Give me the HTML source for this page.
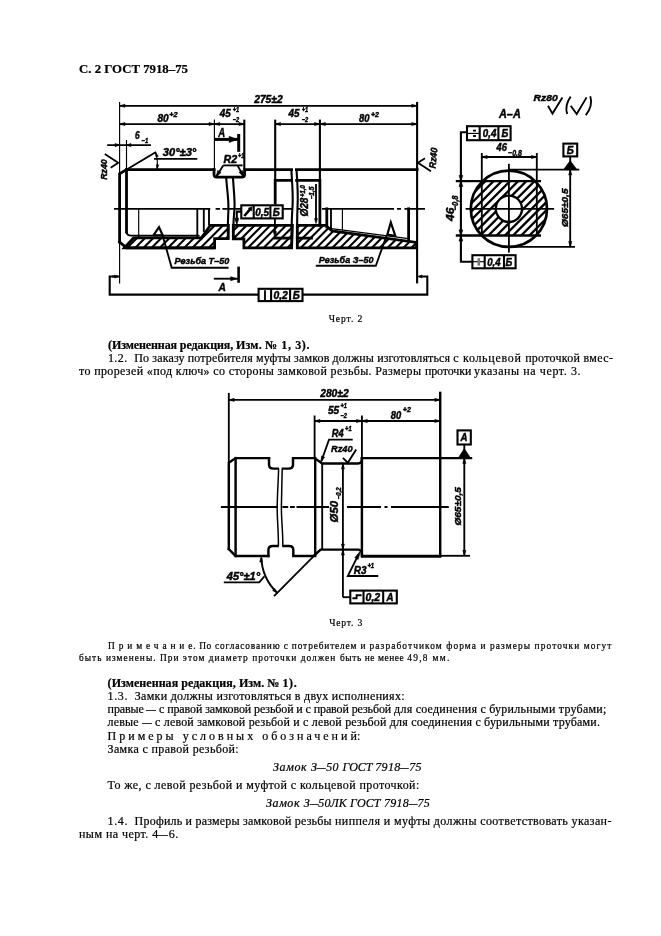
<!DOCTYPE html>
<html><head><meta charset="utf-8">
<style>
html,body{margin:0;padding:0;background:#fff;}
body{width:661px;height:936px;position:relative;overflow:hidden;font-family:"Liberation Serif",serif;color:#000;}
.l{position:absolute;white-space:pre;line-height:1;-webkit-text-stroke:0.22px #000;}
.d{display:inline-block;transform:scaleX(.8);transform-origin:50% 50%;margin:0 -.1em;}
svg{position:absolute;left:0;top:0;}
#pg{position:absolute;left:0;top:0;width:661px;height:936px;opacity:0.999;will-change:transform;}
</style></head><body><div id="pg">
<div class="l" id="h_0" style="left:79.0px;top:62.6px;font-size:12.8px;font-weight:bold;letter-spacing:0.00px;">С. 2 ГОСТ 7918–75</div>
<div class="l" id="c2_0" style="left:328.7px;top:313.6px;font-size:9.6px;letter-spacing:0.89px;">Черт. 2</div>
<div class="l" id="a1_0" style="left:108.0px;top:338.9px;font-size:12.0px;font-weight:bold;letter-spacing:-0.10px;">(Измененная редакция, </div>
<div class="l" id="a1_1" style="left:236.0px;top:338.9px;font-size:12.0px;font-weight:bold;letter-spacing:0.17px;">Изм. </div>
<div class="l" id="a1_2" style="left:265.0px;top:338.9px;font-size:12.0px;font-weight:bold;letter-spacing:0.62px;">№ 1, 3).</div>
<div class="l" id="a2_0" style="left:107.9px;top:351.9px;font-size:12.0px;letter-spacing:0.48px;">1.2. </div>
<div class="l" id="a2_1" style="left:134.3px;top:351.9px;font-size:12.0px;letter-spacing:0.13px;">По заказу потребителя муфты замков должны изготовляться </div>
<div class="l" id="a2_2" style="left:453.2px;top:351.9px;font-size:12.0px;letter-spacing:0.74px;">с </div>
<div class="l" id="a2_3" style="left:463.0px;top:351.9px;font-size:12.0px;letter-spacing:0.69px;">кольцевой </div>
<div class="l" id="a2_4" style="left:525.2px;top:351.9px;font-size:12.0px;letter-spacing:0.25px;">проточкой </div>
<div class="l" id="a2_5" style="left:583.4px;top:351.9px;font-size:12.0px;letter-spacing:0.40px;">вмес-</div>
<div class="l" id="a3_0" style="left:79.0px;top:364.9px;font-size:12.0px;letter-spacing:0.36px;">то прорезей «под ключ» со стороны замковой резьбы. Размеры </div>
<div class="l" id="a3_1" style="left:424.9px;top:364.9px;font-size:12.0px;letter-spacing:-0.13px;">проточки </div>
<div class="l" id="a3_2" style="left:474.1px;top:364.9px;font-size:12.0px;letter-spacing:0.59px;">указаны на черт. 3.</div>
<div class="l" id="c3_0" style="left:329.2px;top:617.9px;font-size:9.6px;letter-spacing:0.81px;">Черт. 3</div>
<div class="l" id="n1_0" style="left:108.0px;top:641.5px;font-size:9.4px;letter-spacing:3.89px;">Примечани</div>
<div class="l" id="n1_1" style="left:188.3px;top:641.5px;font-size:9.4px;letter-spacing:0.67px;">е. По </div>
<div class="l" id="n1_2" style="left:215.0px;top:641.5px;font-size:9.4px;letter-spacing:0.84px;">согласованию с потребителем и </div>
<div class="l" id="n1_3" style="left:369.6px;top:641.5px;font-size:9.4px;letter-spacing:1.09px;">разработчиком форма и размеры проточки могут</div>
<div class="l" id="n2_0" style="left:79.0px;top:653.6px;font-size:9.4px;letter-spacing:1.02px;">быть изменены. При этом диаметр проточки должен </div>
<div class="l" id="n2_1" style="left:340.0px;top:653.6px;font-size:9.4px;letter-spacing:0.58px;">быть не менее </div>
<div class="l" id="n2_2" style="left:407.2px;top:653.6px;font-size:9.4px;letter-spacing:1.30px;">49,8 мм.</div>
<div class="l" id="b1_0" style="left:107.6px;top:677.0px;font-size:12.0px;font-weight:bold;letter-spacing:0.05px;">(Измененная редакция, Изм. № </div>
<div class="l" id="b1_1" style="left:282.4px;top:677.0px;font-size:12.0px;font-weight:bold;letter-spacing:0.65px;">1).</div>
<div class="l" id="b2_0" style="left:107.6px;top:690.0px;font-size:12.0px;letter-spacing:0.64px;">1.3. </div>
<div class="l" id="b2_1" style="left:134.8px;top:690.0px;font-size:12.0px;letter-spacing:0.29px;">Замки должны изготовляться в двух исполнениях:</div>
<div class="l" id="b3_0" style="left:107.6px;top:703.2px;font-size:12.0px;letter-spacing:-0.11px;">правые <span class="d">—</span> с правой замковой резьбой и с правой резьбой </div>
<div class="l" id="b3_1" style="left:394.1px;top:703.2px;font-size:12.0px;letter-spacing:0.23px;">для соединения с бурильными трубами;</div>
<div class="l" id="b4_0" style="left:107.6px;top:716.4px;font-size:12.0px;letter-spacing:0.18px;">левые <span class="d">—</span> с левой замковой резьбой и с левой резьбой для соединения с бурильными трубами.</div>
<div class="l" id="b5_0" style="left:107.6px;top:729.7px;font-size:12.0px;letter-spacing:3.00px;">Примеры условных обозначени</div>
<div class="l" id="b5_1" style="left:350.4px;top:729.7px;font-size:12.0px;letter-spacing:0.13px;">й:</div>
<div class="l" id="b6_0" style="left:107.6px;top:742.8px;font-size:12.0px;letter-spacing:0.34px;">Замка с правой резьбой:</div>
<div class="l" id="b7_0" style="left:273.0px;top:760.7px;font-size:12.0px;font-style:italic;letter-spacing:0.63px;">Замок </div>
<div class="l" id="b7_1" style="left:311.0px;top:760.7px;font-size:12.0px;font-style:italic;letter-spacing:0.45px;">З<span class="d">—</span>50 </div>
<div class="l" id="b7_2" style="left:342.5px;top:760.7px;font-size:12.0px;font-style:italic;letter-spacing:-0.04px;">ГОСТ </div>
<div class="l" id="b7_3" style="left:375.3px;top:760.7px;font-size:12.0px;font-style:italic;letter-spacing:0.32px;">7918<span class="d">—</span>75</div>
<div class="l" id="b8_0" style="left:107.6px;top:778.8px;font-size:12.0px;letter-spacing:0.42px;">То же, с левой резьбой и муфтой с кольцевой проточкой:</div>
<div class="l" id="b9_0" style="left:266.1px;top:796.5px;font-size:12.0px;font-style:italic;letter-spacing:0.56px;">Замок </div>
<div class="l" id="b9_1" style="left:303.7px;top:796.5px;font-size:12.0px;font-style:italic;letter-spacing:0.15px;">З<span class="d">—</span>50ЛК ГОСТ </div>
<div class="l" id="b9_2" style="left:383.9px;top:796.5px;font-size:12.0px;font-style:italic;letter-spacing:0.25px;">7918<span class="d">—</span>75</div>
<div class="l" id="b10_0" style="left:107.6px;top:815.0px;font-size:12.0px;letter-spacing:0.60px;">1.4. </div>
<div class="l" id="b10_1" style="left:134.6px;top:815.0px;font-size:12.0px;letter-spacing:0.21px;">Профиль и размеры замковой резьбы </div>
<div class="l" id="b10_2" style="left:335.0px;top:815.0px;font-size:12.0px;letter-spacing:0.41px;">ниппеля и </div>
<div class="l" id="b10_3" style="left:394.1px;top:815.0px;font-size:12.0px;letter-spacing:0.39px;">муфты должны соответствовать указан-</div>
<div class="l" id="b11_0" style="left:79.0px;top:827.5px;font-size:12.0px;letter-spacing:0.45px;">ным на черт. 4<span class="d">—</span>6.</div>
<svg width="661" height="936" viewBox="0 0 661 936">
<style>
.k{stroke:#000;stroke-width:2.8;fill:none;stroke-linecap:square}
.k2{stroke:#000;stroke-width:2.45;fill:none;stroke-linecap:square}
.m2{stroke:#000;stroke-width:1.5;fill:none}
.m{stroke:#000;stroke-width:1.85;fill:none}
.t{stroke:#000;stroke-width:1.15;fill:none}
.h{stroke:#000;stroke-width:2.1;fill:none}
.e{stroke:#000;stroke-width:2.1;fill:none}
.h2{stroke:#000;stroke-width:2.3;fill:none}
.f{fill:#000;stroke:#000;stroke-width:0.6}
.tx{font-family:"Liberation Sans",sans-serif;font-weight:bold;font-style:italic;fill:#000;stroke:#000;stroke-width:0.45}
</style>
<line class="t" x1="119.6" y1="101.9" x2="119.6" y2="173.7"/>
<line class="t" x1="119.6" y1="242.0" x2="119.6" y2="283.4"/>
<line class="e" x1="417.1" y1="101.9" x2="417.1" y2="283.4"/>
<line class="m" x1="119.6" y1="105.8" x2="417.1" y2="105.8"/>
<polygon class="f" points="119.6,105.8 125.0,104.2 125.0,107.3"/>
<polygon class="f" points="417.1,105.8 411.7,107.3 411.7,104.2"/>
<line class="m" x1="119.6" y1="124.1" x2="244.3" y2="124.1"/>
<polygon class="f" points="119.6,124.1 125.0,122.5 125.0,125.6"/>
<polygon class="f" points="214.4,124.1 209.0,125.6 209.0,122.5"/>
<polygon class="f" points="214.4,124.1 219.8,122.5 219.8,125.6"/>
<polygon class="f" points="244.3,124.1 238.9,125.6 238.9,122.5"/>
<line class="m" x1="275.2" y1="124.1" x2="417.1" y2="124.1"/>
<polygon class="f" points="275.2,124.1 280.6,122.5 280.6,125.6"/>
<polygon class="f" points="319.9,124.1 314.5,125.6 314.5,122.5"/>
<polygon class="f" points="319.9,124.1 325.3,122.5 325.3,125.6"/>
<polygon class="f" points="417.1,124.1 411.7,125.6 411.7,122.5"/>
<line class="t" x1="214.4" y1="119.6" x2="214.4" y2="169.6"/>
<line class="e" x1="244.3" y1="119.6" x2="244.3" y2="169.6"/>
<line class="e" x1="275.2" y1="119.6" x2="275.2" y2="180.3"/>
<line class="e" x1="319.9" y1="119.6" x2="319.9" y2="180.3"/>
<text class="tx" x="254.2" y="103.0" font-size="10.6" textLength="28.5" lengthAdjust="spacingAndGlyphs">275±2</text>
<text class="tx" x="157.5" y="122.3" font-size="10.6" textLength="11.2" lengthAdjust="spacingAndGlyphs">80</text>
<text class="tx" x="169.2" y="116.6" font-size="7.3" textLength="8.4" lengthAdjust="spacingAndGlyphs">+2</text>
<text class="tx" x="219.7" y="116.8" font-size="10.6" textLength="11.0" lengthAdjust="spacingAndGlyphs">45</text>
<text class="tx" x="232.8" y="111.8" font-size="7.3" textLength="6.5" lengthAdjust="spacingAndGlyphs">+1</text>
<text class="tx" x="232.8" y="121.6" font-size="7.3" textLength="6.5" lengthAdjust="spacingAndGlyphs">−2</text>
<text class="tx" x="288.6" y="116.8" font-size="10.6" textLength="11.0" lengthAdjust="spacingAndGlyphs">45</text>
<text class="tx" x="301.7" y="111.8" font-size="7.3" textLength="6.5" lengthAdjust="spacingAndGlyphs">+1</text>
<text class="tx" x="301.7" y="121.6" font-size="7.3" textLength="6.5" lengthAdjust="spacingAndGlyphs">−2</text>
<text class="tx" x="359.0" y="122.3" font-size="10.6" textLength="10.5" lengthAdjust="spacingAndGlyphs">80</text>
<text class="tx" x="370.9" y="116.6" font-size="7.3" textLength="8.0" lengthAdjust="spacingAndGlyphs">+2</text>
<line class="m" x1="107.2" y1="145.1" x2="151.0" y2="145.1"/>
<polygon class="f" points="119.6,145.1 115.1,146.7 115.1,143.5"/>
<polygon class="f" points="126.5,145.1 131.0,143.5 131.0,146.7"/>
<line class="t" x1="126.5" y1="140.0" x2="126.5" y2="169.6"/>
<text class="tx" x="135.0" y="139.4" font-size="10.6" textLength="4.6" lengthAdjust="spacingAndGlyphs">6</text>
<text class="tx" x="141.6" y="143.2" font-size="7.3" textLength="6.6" lengthAdjust="spacingAndGlyphs">−1</text>
<line class="m" x1="119.6" y1="173.7" x2="156.0" y2="152.0"/>
<line class="m" x1="154.0" y1="158.9" x2="197.3" y2="158.9"/>
<text class="tx" x="162.8" y="156.2" font-size="10.1" textLength="33.5" lengthAdjust="spacingAndGlyphs">30°±3°</text>
<path class="t" d="M155.6,152.6 Q158.2,160.5 157,169"/>
<polygon class="f" points="155.6,152.4 158.3,156.2 156.0,157.0"/>
<polygon class="f" points="157.0,169.2 156.4,164.6 158.8,164.9"/>
<polyline class="m" points="104.8,154.0 118.2,162.8 110.7,167.8"/>
<text class="tx" x="107.4" y="179.8" font-size="9.5" textLength="20.5" lengthAdjust="spacingAndGlyphs" transform="rotate(-90 107.4 179.8)">Rz40</text>
<polyline class="m" points="425.0,158.3 418.0,162.8 430.9,171.3"/>
<text class="tx" x="435.4" y="168.8" font-size="9.5" textLength="21.0" lengthAdjust="spacingAndGlyphs" transform="rotate(-84 435.4 168.8)">Rz40</text>
<polyline class="k" points="119.6,242.0 119.6,173.7 126.5,169.6 214.0,169.6"/>
<path class="k" d="M214,169.6 L214,174.5 Q214,177.2 216.8,177.2 L241.8,177.2 Q244.6,177.2 244.6,174.5 L244.6,169.6 L291.6,169.6"/>
<line class="k" x1="296.4" y1="169.6" x2="417.1" y2="169.6"/>
<line class="k" x1="126.5" y1="169.6" x2="126.5" y2="232.0"/>
<path class="m" d="M126.5,231.5 Q126.5,235.6 131.5,235.6 L199.5,235.6"/>
<polyline class="k" points="119.6,242.0 126.5,247.8 213.2,247.8"/>
<line class="m" x1="223.2" y1="165.4" x2="242.6" y2="165.4"/>
<line class="m" x1="223.2" y1="165.4" x2="216.6" y2="176.3"/>
<line class="m" x1="237.5" y1="165.4" x2="243.4" y2="176.3"/>
<polygon class="f" points="216.0,177.0 217.7,170.4 221.1,172.5"/>
<polygon class="f" points="244.0,177.0 239.0,172.4 242.5,170.4"/>
<text class="tx" x="223.6" y="163.2" font-size="10.1" textLength="13.6" lengthAdjust="spacingAndGlyphs">R2</text>
<text class="tx" x="238.0" y="158.4" font-size="7.3" textLength="6.2" lengthAdjust="spacingAndGlyphs">+1</text>
<line x1="214.2" y1="139.4" x2="238" y2="139.4" stroke="#000" stroke-width="3"/>
<polygon class="f" points="237.2,139.4 229.2,142.5 229.2,136.3"/>
<line x1="238.7" y1="134" x2="238.7" y2="151.8" stroke="#000" stroke-width="3"/>
<text class="tx" x="218.2" y="136.6" font-size="13.4" textLength="6.9" lengthAdjust="spacingAndGlyphs">A</text>
<line x1="213.8" y1="278.7" x2="238" y2="278.7" stroke="#000" stroke-width="1.9"/>
<polygon class="f" points="237.2,278.7 230.7,280.7 230.7,276.7"/>
<line x1="238.6" y1="266.6" x2="238.6" y2="282.8" stroke="#000" stroke-width="2.6"/>
<text class="tx" x="218.4" y="291.3" font-size="10.6" textLength="7.4" lengthAdjust="spacingAndGlyphs">A</text>
<polyline class="k" points="275.2,203.2 275.2,180.3 291.6,180.3"/>
<polyline class="k" points="296.6,180.3 319.9,180.3 319.9,225.3"/>
<path class="m" d="M114,208.8 H210.3 M215.6,208.8 H220.1 M222.4,208.8 H241.3 M283,208.8 H292.5 M298,208.8 H300 M322,208.8 H394 M397,208.8 H401 M404.5,208.8 H425"/>
<line class="t" x1="138.7" y1="208.8" x2="138.7" y2="237.0"/>
<line class="m" x1="197.3" y1="208.8" x2="197.3" y2="237.0"/>
<line class="m" x1="203.8" y1="208.8" x2="203.8" y2="232.0"/>
<line class="m" x1="209.0" y1="208.8" x2="209.0" y2="225.4"/>
<line class="k" x1="326.8" y1="208.8" x2="326.8" y2="227.0"/>
<line class="m" x1="331.0" y1="208.8" x2="331.0" y2="229.5"/>
<line class="t" x1="342.4" y1="208.8" x2="342.4" y2="230.4"/>
<line class="k" x1="408.6" y1="208.8" x2="408.6" y2="240.4"/>
<clipPath id="cpa"><path d="M124.5,247.8 L133.6,237.8 L201.4,237.8 L210.4,225.3 L228.4,225.3 L228.2,238.6 L214.6,238.6 L214.6,247.8 Z" clip-rule="evenodd"/></clipPath>
<clipPath id="cpb"><path d="M233.3,225.3 L292.4,225.3 L291.6,247.8 L243.9,247.8 L243.9,238.9 L233.3,238.9 Z" clip-rule="evenodd"/></clipPath>
<clipPath id="cpc"><path d="M297.3,225.3 L325.5,225.3 L332,230.9 L416.5,242.4 L416.5,247.8 L297.3,247.8 Z" clip-rule="evenodd"/></clipPath>
<g clip-path="url(#cpa)">
<line class="h" x1="84.2" y1="250.0" x2="111.2" y2="223.0"/>
<line class="h" x1="92.4" y1="250.0" x2="119.4" y2="223.0"/>
<line class="h" x1="100.6" y1="250.0" x2="127.6" y2="223.0"/>
<line class="h" x1="108.7" y1="250.0" x2="135.7" y2="223.0"/>
<line class="h" x1="116.9" y1="250.0" x2="143.9" y2="223.0"/>
<line class="h" x1="125.0" y1="250.0" x2="152.0" y2="223.0"/>
<line class="h" x1="133.1" y1="250.0" x2="160.1" y2="223.0"/>
<line class="h" x1="141.3" y1="250.0" x2="168.3" y2="223.0"/>
<line class="h" x1="149.4" y1="250.0" x2="176.4" y2="223.0"/>
<line class="h" x1="157.6" y1="250.0" x2="184.6" y2="223.0"/>
<line class="h" x1="165.8" y1="250.0" x2="192.8" y2="223.0"/>
<line class="h" x1="173.9" y1="250.0" x2="200.9" y2="223.0"/>
<line class="h" x1="182.1" y1="250.0" x2="209.1" y2="223.0"/>
<line class="h" x1="190.2" y1="250.0" x2="217.2" y2="223.0"/>
<line class="h" x1="198.4" y1="250.0" x2="225.4" y2="223.0"/>
<line class="h" x1="206.5" y1="250.0" x2="233.5" y2="223.0"/>
<line class="h" x1="214.6" y1="250.0" x2="241.6" y2="223.0"/>
<line class="h" x1="222.8" y1="250.0" x2="249.8" y2="223.0"/>
<line class="h" x1="230.9" y1="250.0" x2="257.9" y2="223.0"/>
<line class="h" x1="239.1" y1="250.0" x2="266.1" y2="223.0"/>
</g>
<g clip-path="url(#cpb)">
<line class="h" x1="190.4" y1="250.0" x2="217.4" y2="223.0"/>
<line class="h" x1="198.3" y1="250.0" x2="225.3" y2="223.0"/>
<line class="h" x1="206.2" y1="250.0" x2="233.2" y2="223.0"/>
<line class="h" x1="214.1" y1="250.0" x2="241.1" y2="223.0"/>
<line class="h" x1="222.0" y1="250.0" x2="249.0" y2="223.0"/>
<line class="h" x1="229.9" y1="250.0" x2="256.9" y2="223.0"/>
<line class="h" x1="237.8" y1="250.0" x2="264.8" y2="223.0"/>
<line class="h" x1="245.7" y1="250.0" x2="272.7" y2="223.0"/>
<line class="h" x1="253.6" y1="250.0" x2="280.6" y2="223.0"/>
<line class="h" x1="261.5" y1="250.0" x2="288.5" y2="223.0"/>
<line class="h" x1="269.4" y1="250.0" x2="296.4" y2="223.0"/>
<line class="h" x1="277.3" y1="250.0" x2="304.3" y2="223.0"/>
<line class="h" x1="285.2" y1="250.0" x2="312.2" y2="223.0"/>
<line class="h" x1="293.1" y1="250.0" x2="320.1" y2="223.0"/>
<line class="h" x1="301.0" y1="250.0" x2="328.0" y2="223.0"/>
</g>
<g clip-path="url(#cpc)">
<line class="h" x1="259.1" y1="250.0" x2="286.1" y2="223.0"/>
<line class="h" x1="267.0" y1="250.0" x2="294.0" y2="223.0"/>
<line class="h" x1="274.9" y1="250.0" x2="301.9" y2="223.0"/>
<line class="h" x1="282.8" y1="250.0" x2="309.8" y2="223.0"/>
<line class="h" x1="290.7" y1="250.0" x2="317.7" y2="223.0"/>
<line class="h" x1="298.6" y1="250.0" x2="325.6" y2="223.0"/>
<line class="h" x1="306.5" y1="250.0" x2="333.5" y2="223.0"/>
<line class="h" x1="314.4" y1="250.0" x2="341.4" y2="223.0"/>
<line class="h" x1="322.3" y1="250.0" x2="349.3" y2="223.0"/>
<line class="h" x1="330.2" y1="250.0" x2="357.2" y2="223.0"/>
<line class="h" x1="338.1" y1="250.0" x2="365.1" y2="223.0"/>
<line class="h" x1="346.0" y1="250.0" x2="373.0" y2="223.0"/>
<line class="h" x1="353.9" y1="250.0" x2="380.9" y2="223.0"/>
<line class="h" x1="361.8" y1="250.0" x2="388.8" y2="223.0"/>
<line class="h" x1="369.7" y1="250.0" x2="396.7" y2="223.0"/>
<line class="h" x1="377.6" y1="250.0" x2="404.6" y2="223.0"/>
<line class="h" x1="385.5" y1="250.0" x2="412.5" y2="223.0"/>
<line class="h" x1="393.4" y1="250.0" x2="420.4" y2="223.0"/>
<line class="h" x1="401.3" y1="250.0" x2="428.3" y2="223.0"/>
<line class="h" x1="409.2" y1="250.0" x2="436.2" y2="223.0"/>
<line class="h" x1="417.1" y1="250.0" x2="444.1" y2="223.0"/>
<line class="h" x1="425.0" y1="250.0" x2="452.0" y2="223.0"/>
</g>
<path class="k" d="M124.5,247.8 L133.6,237.8 L201.4,237.8 L210.4,225.3 L228.4,225.3 L228.2,238.6 L214.6,238.6 L214.6,247.8 Z"/>
<path class="k" d="M233.3,225.3 L292.4,225.3 L291.6,247.8 L243.9,247.8 L243.9,238.9 L233.3,238.9 Z"/>
<path class="k" d="M297.3,225.3 L325.5,225.3 L332,230.9 L416.5,242.4 L416.5,247.8 L297.3,247.8 Z"/>
<line class="k" x1="275.2" y1="238.1" x2="291.6" y2="238.1"/>
<line class="k" x1="297.3" y1="238.1" x2="311.5" y2="238.1"/>
<line class="t" x1="326.0" y1="226.0" x2="331.5" y2="228.6"/>
<line class="t" x1="331.5" y1="228.6" x2="408.6" y2="238.6"/>
<path class="e" d="M226.2,177.5 C227,190 228.8,200 228.4,210 S227.4,228 228.3,238.6"/>
<path class="e" d="M233,177.5 C233.6,190 235,200 234.5,208 S232.8,226 233.3,238.9"/>
<path class="e" d="M291.4,169.6 C291.8,180 293.2,192 292.6,205 S291,222 292,247.8"/>
<path class="e" d="M296.5,169.6 C297.2,180 298.2,192 297.6,205 S296.8,222 297.3,247.8"/>
<polygon class="e" points="153.4,235.3 159.0,227.2 162.7,235.3"/>
<polyline class="m" points="162.2,234.0 171.7,267.7 228.6,267.7"/>
<text class="tx" x="174.6" y="263.6" font-size="9.7" textLength="54.6" lengthAdjust="spacingAndGlyphs">Резьба Т–50</text>
<polygon class="e" points="387.3,234.6 390.8,222.4 395.3,235.8"/>
<polyline class="m" points="386.6,235.6 375.8,265.7 315.8,265.7"/>
<text class="tx" x="318.8" y="263.4" font-size="9.7" textLength="54.6" lengthAdjust="spacingAndGlyphs">Резьба З–50</text>
<rect class="e" x="241.3" y="205.3" width="41.4" height="13.1"/>
<line class="e" x1="253.7" y1="205.3" x2="253.7" y2="218.4"/>
<line class="e" x1="270.4" y1="205.3" x2="270.4" y2="218.4"/>
<line x1="244.3" y1="216" x2="250.6" y2="208.6" stroke="#000" stroke-width="2.6"/>
<polygon class="f" points="252.2,206.8 251.5,210.9 248.3,208.2"/>
<text class="tx" x="255.2" y="215.6" font-size="10.1" textLength="13.8" lengthAdjust="spacingAndGlyphs">0,5</text>
<text class="tx" x="272.8" y="215.6" font-size="10.1" textLength="7.0" lengthAdjust="spacingAndGlyphs">Б</text>
<polyline class="e" points="241.3,211.6 236.8,211.6 236.8,221.0"/>
<polygon class="f" points="236.8,225.2 234.9,218.2 238.7,218.2"/>
<line class="m" x1="274.9" y1="218.4" x2="274.9" y2="233.0"/>
<polygon class="f" points="274.9,237.6 273.3,231.6 276.5,231.6"/>
<line class="m" x1="316.0" y1="184.0" x2="316.0" y2="220.0"/>
<polygon class="f" points="316.0,223.6 314.5,218.6 317.5,218.6"/>
<text class="tx" x="308.4" y="216.6" font-size="10.6" textLength="19.0" lengthAdjust="spacingAndGlyphs" transform="rotate(-90 308.4 216.6)">Ø28</text>
<text class="tx" x="304.6" y="197.0" font-size="6.6" textLength="12.0" lengthAdjust="spacingAndGlyphs" transform="rotate(-90 304.6 197.0)">+1,0</text>
<text class="tx" x="313.6" y="199.6" font-size="6.6" textLength="13.0" lengthAdjust="spacingAndGlyphs" transform="rotate(-90 313.6 199.6)">−1,5</text>
<polyline class="e" points="114.6,276.5 109.7,276.5 109.7,294.6 258.6,294.6"/>
<polygon class="f" points="119.6,276.5 114.6,278.0 114.6,275.0"/>
<line class="m" x1="112.0" y1="276.5" x2="119.6" y2="276.5"/>
<polyline class="e" points="422.1,276.5 427.3,276.5 427.3,294.6 302.5,294.6"/>
<polygon class="f" points="417.1,276.5 422.1,275.0 422.1,278.0"/>
<rect class="e" x="258.6" y="288.8" width="43.9" height="12.3"/>
<line class="e" x1="271.1" y1="288.8" x2="271.1" y2="301.1"/>
<line class="e" x1="290.1" y1="288.8" x2="290.1" y2="301.1"/>
<line class="m" x1="265.0" y1="290.2" x2="265.0" y2="300.4"/>
<text class="tx" x="273.4" y="298.8" font-size="10.1" textLength="14.4" lengthAdjust="spacingAndGlyphs">0,2</text>
<text class="tx" x="292.8" y="298.8" font-size="10.1" textLength="7.0" lengthAdjust="spacingAndGlyphs">Б</text>
<text class="tx" x="499.0" y="117.6" font-size="12.5" textLength="21.8" lengthAdjust="spacingAndGlyphs">A–A</text>
<rect class="e" x="467" y="126.2" width="43.6" height="14"/>
<line class="e" x1="479.7" y1="126.2" x2="479.7" y2="140.2"/>
<line class="e" x1="498.4" y1="126.2" x2="498.4" y2="140.2"/>
<line class="t" x1="467.0" y1="133.4" x2="479.7" y2="133.4"/>
<line class="m" x1="473.0" y1="130.6" x2="476.0" y2="130.6"/>
<line class="m" x1="473.0" y1="136.0" x2="476.0" y2="136.0"/>
<text class="tx" x="482.8" y="137.2" font-size="10.6" textLength="13.6" lengthAdjust="spacingAndGlyphs">0,4</text>
<text class="tx" x="501.4" y="137.2" font-size="10.3" textLength="6.8" lengthAdjust="spacingAndGlyphs">Б</text>
<polyline class="e" points="467.0,132.2 460.9,132.2 460.9,261.7 472.4,261.7"/>
<polygon class="f" points="460.9,181.0 459.0,175.4 462.8,175.4"/>
<polygon class="f" points="460.9,181.0 462.8,186.6 459.0,186.6"/>
<polygon class="f" points="460.9,235.5 459.0,229.9 462.8,229.9"/>
<polygon class="f" points="460.9,235.5 462.8,241.1 459.0,241.1"/>
<text class="tx" x="454.2" y="221.0" font-size="10.3" textLength="13.4" lengthAdjust="spacingAndGlyphs" transform="rotate(-90 454.2 221.0)">46</text>
<text class="tx" x="458.4" y="210.4" font-size="9.0" textLength="15.0" lengthAdjust="spacingAndGlyphs" transform="rotate(-90 458.4 210.4)">−0,8</text>
<rect class="e" x="472.4" y="255.2" width="43.2" height="13.1"/>
<line class="e" x1="484.7" y1="255.2" x2="484.7" y2="268.3"/>
<line class="e" x1="504.0" y1="255.2" x2="504.0" y2="268.3"/>
<line class="t" x1="472.4" y1="261.7" x2="484.7" y2="261.7"/>
<line x1="478.8" y1="258.2" x2="478.8" y2="265.6" stroke="#777" stroke-width="2.6"/>
<text class="tx" x="487.2" y="265.8" font-size="10.6" textLength="13.4" lengthAdjust="spacingAndGlyphs">0,4</text>
<text class="tx" x="505.6" y="265.8" font-size="10.3" textLength="6.8" lengthAdjust="spacingAndGlyphs">Б</text>
<line class="m" x1="481.8" y1="153.0" x2="481.8" y2="235.5"/>
<line class="m" x1="536.8" y1="153.0" x2="536.8" y2="235.5"/>
<line class="m" x1="481.8" y1="157.0" x2="536.8" y2="157.0"/>
<polygon class="f" points="481.8,157.0 487.2,155.4 487.2,158.6"/>
<polygon class="f" points="536.8,157.0 531.4,158.6 531.4,155.4"/>
<text class="tx" x="496.6" y="151.0" font-size="10.1" textLength="10.3" lengthAdjust="spacingAndGlyphs">46</text>
<text class="tx" x="508.0" y="155.6" font-size="9.5" textLength="14.0" lengthAdjust="spacingAndGlyphs">−0,8</text>
<clipPath id="cpd"><path d="M470.8,181 H547.0 V235.5 H470.8 Z M508.9,208.8 m-13.1,0 a13.1,13.1 0 1,0 26.2,0 a13.1,13.1 0 1,0 -26.2,0" clip-rule="evenodd"/></clipPath>
<clipPath id="cpe"><circle cx="508.9" cy="208.8" r="38.1"/></clipPath>
<g clip-path="url(#cpe)">
<g clip-path="url(#cpd)">
<line class="h2" x1="404.4" y1="237.5" x2="462.9" y2="179.0"/>
<line class="h2" x1="412.6" y1="237.5" x2="471.1" y2="179.0"/>
<line class="h2" x1="420.8" y1="237.5" x2="479.3" y2="179.0"/>
<line class="h2" x1="429.0" y1="237.5" x2="487.5" y2="179.0"/>
<line class="h2" x1="437.2" y1="237.5" x2="495.7" y2="179.0"/>
<line class="h2" x1="445.4" y1="237.5" x2="503.9" y2="179.0"/>
<line class="h2" x1="453.6" y1="237.5" x2="512.1" y2="179.0"/>
<line class="h2" x1="461.8" y1="237.5" x2="520.3" y2="179.0"/>
<line class="h2" x1="470.0" y1="237.5" x2="528.5" y2="179.0"/>
<line class="h2" x1="478.2" y1="237.5" x2="536.7" y2="179.0"/>
<line class="h2" x1="486.4" y1="237.5" x2="544.9" y2="179.0"/>
<line class="h2" x1="494.6" y1="237.5" x2="553.1" y2="179.0"/>
<line class="h2" x1="502.8" y1="237.5" x2="561.3" y2="179.0"/>
<line class="h2" x1="511.0" y1="237.5" x2="569.5" y2="179.0"/>
<line class="h2" x1="519.2" y1="237.5" x2="577.7" y2="179.0"/>
<line class="h2" x1="527.4" y1="237.5" x2="585.9" y2="179.0"/>
<line class="h2" x1="535.6" y1="237.5" x2="594.1" y2="179.0"/>
<line class="h2" x1="543.8" y1="237.5" x2="602.3" y2="179.0"/>
<line class="h2" x1="552.0" y1="237.5" x2="610.5" y2="179.0"/>
<line class="h2" x1="560.2" y1="237.5" x2="618.7" y2="179.0"/>
</g>
</g>
<circle class="k" cx="508.9" cy="208.8" r="38.1" style="stroke-width:2.7"/>
<circle class="k" cx="508.9" cy="208.8" r="13.1" style="stroke-width:2.3"/>
<line class="m" x1="455.8" y1="181.1" x2="541" y2="181.1" style="stroke-width:2.3"/>
<line class="m" x1="455.8" y1="235.5" x2="541" y2="235.5" style="stroke-width:2.3"/>
<line class="m" x1="508.9" y1="163.8" x2="508.9" y2="252.6"/>
<line class="m" x1="465.6" y1="208.8" x2="554.1" y2="208.8"/>
<line class="m" x1="508.9" y1="169.6" x2="579.3" y2="169.6"/>
<line class="m" x1="508.9" y1="246.9" x2="575.0" y2="246.9"/>
<line class="m" x1="570.2" y1="169.6" x2="570.2" y2="246.9"/>
<polygon class="f" points="570.2,169.6 571.8,175.0 568.7,175.0"/>
<polygon class="f" points="570.2,246.9 568.7,241.5 571.8,241.5"/>
<text class="tx" x="567.6" y="227.0" font-size="9.7" textLength="38.5" lengthAdjust="spacingAndGlyphs" transform="rotate(-90 567.6 227.0)">Ø65±0,5</text>
<line class="t" x1="570.4" y1="191.0" x2="570.4" y2="188.0"/>
<rect class="e" x="563.4" y="143.6" width="13.8" height="12.8"/>
<text class="tx" x="566.8" y="153.6" font-size="10.1" textLength="7.0" lengthAdjust="spacingAndGlyphs">Б</text>
<line class="m" x1="570.2" y1="156.4" x2="570.2" y2="162.0"/>
<polygon class="f" points="570.2,160.6 576.9,169.6 563.6,169.6"/>
<text class="tx" x="533.6" y="101.2" font-size="9.7" textLength="24.2" lengthAdjust="spacingAndGlyphs">Rz80</text>
<polyline class="m" points="548.0,105.7 552.5,113.6 562.4,97.4"/>
<path class="m" d="M570.7,96.6 Q564.4,105 567.2,114"/>
<polyline class="m" points="570.7,105.7 576.7,114.0 586.6,97.4"/>
<path class="m" d="M590.3,96.3 Q593.2,106 585.8,115.1"/>
<line class="m" x1="228.8" y1="392.9" x2="228.8" y2="462.7"/>
<line class="k2" x1="440.2" y1="392.9" x2="440.2" y2="556.0"/>
<line class="m" x1="228.8" y1="399.9" x2="440.2" y2="399.9"/>
<polygon class="f" points="228.8,399.9 234.2,398.3 234.2,401.4"/>
<polygon class="f" points="440.2,399.9 434.8,401.4 434.8,398.3"/>
<line class="m" x1="314.6" y1="421.0" x2="440.2" y2="421.0"/>
<polygon class="f" points="314.6,421.0 320.0,419.4 320.0,422.6"/>
<polygon class="f" points="361.9,421.0 356.5,422.6 356.5,419.4"/>
<polygon class="f" points="361.9,421.0 367.3,419.4 367.3,422.6"/>
<polygon class="f" points="440.2,421.0 434.8,422.6 434.8,419.4"/>
<line class="m" x1="314.6" y1="415.5" x2="314.6" y2="458.1"/>
<line class="m" x1="361.9" y1="415.5" x2="361.9" y2="458.1"/>
<text class="tx" x="320.2" y="397.0" font-size="10.6" textLength="28.4" lengthAdjust="spacingAndGlyphs">280±2</text>
<text class="tx" x="328.0" y="413.6" font-size="10.6" textLength="11.2" lengthAdjust="spacingAndGlyphs">55</text>
<text class="tx" x="340.4" y="408.4" font-size="7.3" textLength="6.4" lengthAdjust="spacingAndGlyphs">+1</text>
<text class="tx" x="340.4" y="418.4" font-size="7.3" textLength="6.4" lengthAdjust="spacingAndGlyphs">−2</text>
<text class="tx" x="390.7" y="418.6" font-size="10.6" textLength="10.4" lengthAdjust="spacingAndGlyphs">80</text>
<text class="tx" x="402.8" y="411.8" font-size="7.3" textLength="8.0" lengthAdjust="spacingAndGlyphs">+2</text>
<polyline class="k2" points="228.8,549.0 228.8,462.7 235.6,458.1 269.0,458.1"/>
<path class="k2" d="M269,458.1 L269,464.5 Q269,468.6 273.4,468.6 L277.8,468.6 M283,468.6 L288.6,468.6 Q293,468.6 293,464.5 L293,458.1 L314.6,458.1 L322.2,463.5 L358,463.5 Q361.9,463.5 361.9,459.6"/>
<line class="k2" x1="235.6" y1="458.1" x2="235.6" y2="556.0"/>
<polyline class="k2" points="228.8,549.0 235.6,556.0 268.4,556.0"/>
<path class="k2" d="M268.4,556.0 L268.4,550 Q268.4,546 272.8,546 L277.6,546 M283.4,546 L289,546 Q293.3,546 293.3,550 L293.3,556.0 L313.6,556.0 L320.7,549.6 L357.6,549.6 Q361.9,549.6 361.9,554"/>
<line class="k2" x1="315.2" y1="458.1" x2="315.2" y2="556.0"/>
<line class="m" x1="322.2" y1="463.5" x2="322.2" y2="549.6"/>
<line class="k2" x1="361.9" y1="458.1" x2="361.9" y2="556.0"/>
<line class="k2" x1="361.9" y1="458.1" x2="471.0" y2="458.1"/>
<line x1="360.9" y1="556.2" x2="441.2" y2="556.2" stroke="#000" stroke-width="3"/>
<line class="m" x1="440.2" y1="555.8" x2="470.0" y2="555.8"/>
<path class="m2" d="M278.6,468.6 C278.4,480 277.4,492 277.2,506 S278.6,530 278.4,546"/>
<path class="m2" d="M282.2,468.6 C282,480 281.6,492 281.4,506 S283,530 282.8,546"/>
<path class="m" d="M220.9,507.0 H277.4 M282.4,507.0 H288.2 M290,507.0 H294.8 M296.5,507.0 H329 M347,507.0 H381 M384.5,507.0 H387.5 M391,507.0 H448.8"/>
<line class="m" x1="320.2" y1="549.6" x2="274.0" y2="596.2"/>
<path class="m" d="M261.3,557.6 A51.8,51.8 0 0,0 277,592.6"/>
<polygon class="f" points="261.3,556.6 262.5,562.1 259.7,562.0"/>
<polygon class="f" points="277.6,593.2 272.6,590.5 274.5,588.4"/>
<polyline class="m" points="223.8,582.4 259.2,582.4 264.4,576.4"/>
<text class="tx" x="226.8" y="580.4" font-size="10.3" textLength="33.4" lengthAdjust="spacingAndGlyphs">45°±1°</text>
<line class="m" x1="342.9" y1="463.5" x2="342.9" y2="597.2"/>
<polygon class="f" points="342.9,463.5 344.4,469.0 341.4,469.0"/>
<polygon class="f" points="342.9,549.6 341.4,544.1 344.4,544.1"/>
<polygon class="f" points="342.9,549.6 344.4,555.1 341.4,555.1"/>
<line class="m" x1="342.9" y1="597.2" x2="350.3" y2="597.2"/>
<text class="tx" x="338.4" y="522.4" font-size="10.1" textLength="21.4" lengthAdjust="spacingAndGlyphs" transform="rotate(-90 338.4 522.4)">Ø50</text>
<text class="tx" x="341.2" y="499.2" font-size="7.0" textLength="11.8" lengthAdjust="spacingAndGlyphs" transform="rotate(-90 341.2 499.2)">−0,2</text>
<polyline class="m" points="352.7,439.6 329.0,439.6 321.4,461.0"/>
<polygon class="f" points="321.0,462.2 321.5,456.0 324.6,457.1"/>
<text class="tx" x="331.8" y="437.4" font-size="10.6" textLength="11.8" lengthAdjust="spacingAndGlyphs">R4</text>
<text class="tx" x="345.0" y="431.4" font-size="7.3" textLength="6.6" lengthAdjust="spacingAndGlyphs">+1</text>
<text class="tx" x="331.0" y="452.0" font-size="9.5" textLength="21.6" lengthAdjust="spacingAndGlyphs">Rz40</text>
<polyline class="m" points="342.9,457.8 347.8,462.7 356.2,449.5"/>
<polyline class="m" points="378.3,576.0 347.8,576.0 358.6,554.4"/>
<polygon class="f" points="360.4,551.0 358.2,559.4 354.8,557.7"/>
<text class="tx" x="353.7" y="573.6" font-size="10.6" textLength="12.8" lengthAdjust="spacingAndGlyphs">R3</text>
<text class="tx" x="367.4" y="567.8" font-size="7.3" textLength="6.8" lengthAdjust="spacingAndGlyphs">+1</text>
<rect class="e" x="350.3" y="590.6" width="46.5" height="12.8"/>
<line class="e" x1="363.5" y1="590.6" x2="363.5" y2="603.4"/>
<line class="e" x1="383.2" y1="590.6" x2="383.2" y2="603.4"/>
<polyline class="m" points="352.4,598.2 356.6,598.2 356.6,595.2 361.6,595.2"/>
<text class="tx" x="365.6" y="601.0" font-size="10.1" textLength="14.6" lengthAdjust="spacingAndGlyphs">0,2</text>
<text class="tx" x="386.6" y="601.0" font-size="10.1" textLength="7.0" lengthAdjust="spacingAndGlyphs">A</text>
<rect class="e" x="457.5" y="430.4" width="13.3" height="14.1"/>
<text class="tx" x="460.6" y="441.4" font-size="10.6" textLength="7.0" lengthAdjust="spacingAndGlyphs">A</text>
<line class="m" x1="464.3" y1="444.5" x2="464.3" y2="450.0"/>
<polygon class="f" points="464.3,448.6 470.6,458.1 458.2,458.1"/>
<line class="m" x1="464.3" y1="458.1" x2="464.3" y2="555.7"/>
<polygon class="f" points="464.3,458.1 465.9,463.5 462.8,463.5"/>
<polygon class="f" points="464.3,555.7 462.8,550.3 465.9,550.3"/>
<text class="tx" x="461.2" y="525.6" font-size="9.7" textLength="38.6" lengthAdjust="spacingAndGlyphs" transform="rotate(-90 461.2 525.6)">Ø65±0,5</text>
</svg>
</div></body></html>
